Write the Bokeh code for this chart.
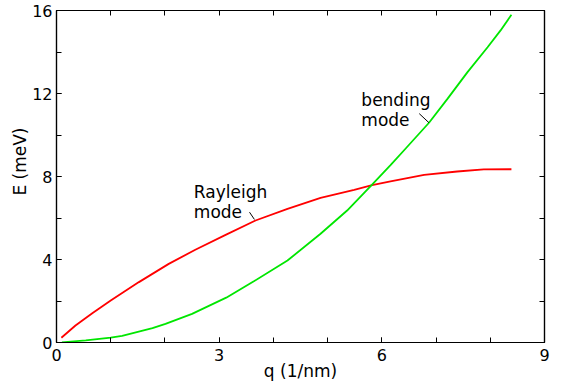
from bokeh.plotting import figure
from bokeh.models import Range1d, LinearAxis, FixedTicker, Title
from bokeh.core.properties import value
from bokeh.embed import file_html
from bokeh.resources import INLINE

# Rayleigh mode dispersion
q_rayleigh = [0.09, 0.35, 0.66, 1.0, 1.52, 2.07, 2.56, 3.1, 3.67, 4.26, 4.87, 5.49, 5.82, 6.16, 6.78, 7.39, 7.88, 8.39]
E_rayleigh = [0.23, 0.82, 1.41, 2.02, 2.91, 3.79, 4.47, 5.16, 5.88, 6.44, 6.97, 7.36, 7.58, 7.77, 8.08, 8.24, 8.34, 8.35]

# bending mode dispersion
q_bending = [0.1, 0.54, 1.0, 1.21, 1.77, 2.01, 2.5, 3.13, 3.64, 4.26, 4.87, 5.36, 5.82, 6.16, 6.44, 6.87, 7.21, 7.58, 7.95, 8.19, 8.39]
E_bending = [0.01, 0.1, 0.23, 0.32, 0.69, 0.9, 1.38, 2.16, 2.95, 3.95, 5.24, 6.36, 7.61, 8.55, 9.35, 10.59, 11.74, 13.03, 14.23, 15.04, 15.79]

x_major = [0, 3, 6, 9]
x_minor = [0, 1, 2, 3, 4, 5, 6, 7, 8, 9]
y_major = [0, 4, 8, 12, 16]
y_minor = [0, 2, 4, 6, 8, 10, 12, 14, 16]

x_title = "q (1/nm)"
y_title = "E (meV)"

# annotations: text lines and pointer segments
ann_text = ["Rayleigh", "mode", "bending", "mode"]
ann_x = [2.533, 2.533, 5.622, 5.622]
ann_y = [7.24, 6.28, 11.71, 10.73]
ptr_x0 = [3.56, 6.69]
ptr_y0 = [6.28, 11.03]
ptr_x1 = [3.65, 6.87]
ptr_y1 = [5.93, 10.59]

FONT = "DejaVu Sans"

p = figure(width=562, height=386, output_backend="svg", toolbar_location=None,
           x_range=Range1d(0, 9), y_range=Range1d(0, 16),
           min_border_left=56, min_border_right=18, min_border_top=10, min_border_bottom=44,
           x_axis_label=x_title)
p.grid.visible = False
p.outline_line_color = "black"
p.outline_line_width = 1.2
p.background_fill_color = "white"
p.border_fill_color = "white"

def style_axis(ax, major, minor):
    ax.ticker = FixedTicker(ticks=major, minor_ticks=minor)
    ax.major_tick_in = 5
    ax.major_tick_out = 0
    ax.minor_tick_in = 5
    ax.minor_tick_out = 0
    ax.axis_line_color = "black"
    ax.axis_line_width = 1.2
    ax.major_tick_line_color = "black"
    ax.minor_tick_line_color = "black"
    ax.major_label_text_font = FONT
    ax.major_label_text_font_size = "16px"
    ax.major_label_text_color = "black"
    ax.axis_label_text_font = FONT
    ax.axis_label_text_font_size = "17px"
    ax.axis_label_text_font_style = "normal"
    ax.axis_label_text_color = "black"

style_axis(p.xaxis[0], x_major, x_minor)
style_axis(p.yaxis[0], y_major, y_minor)
p.xaxis[0].major_label_standoff = 6
p.xaxis[0].axis_label_standoff = -3
p.yaxis[0].major_label_standoff = 4

# top and right axes: ticks only, no labels
top = LinearAxis()
style_axis(top, [], x_minor)
p.add_layout(top, "above")
right = LinearAxis()
style_axis(right, [], y_minor)
p.add_layout(right, "right")

p.line(q_rayleigh, E_rayleigh, line_color="#ff0000", line_width=1.8)
p.line(q_bending, E_bending, line_color="#00e600", line_width=1.8)

p.segment(ptr_x0, ptr_y0, ptr_x1, ptr_y1, line_color="black", line_width=1)
p.text(ann_x, ann_y, text=ann_text, text_font=value(FONT), text_font_size="17px",
       text_color="black", text_baseline="alphabetic", text_align="left")

# y axis title, placed slightly above centre as in the original
p.add_layout(Title(text=y_title, align="right", offset=117, standoff=0,
                   text_font=FONT, text_font_size="17px", text_font_style="normal",
                   text_color="black"), "left")

open("out.html", "w").write(file_html(p, INLINE))
